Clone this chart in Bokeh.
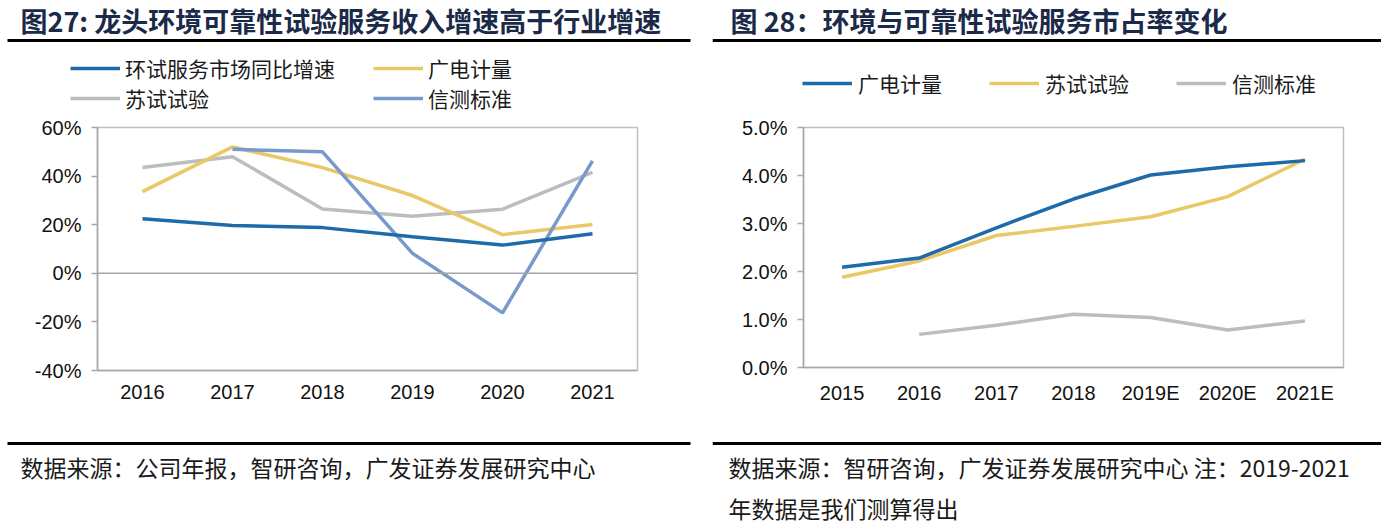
from bokeh.plotting import figure
from bokeh.models import (Range1d, FactorRange, FixedTicker, NumeralTickFormatter,
                          Legend, LegendItem, Span)
from bokeh.layouts import column, row
from bokeh.embed import file_html
from bokeh.resources import INLINE
from bokeh.core.properties import value

nan = float("nan")

# ---------------- data: left chart (growth rates) ----------------
years_l = ["2016", "2017", "2018", "2019", "2020", "2021"]
market_growth = [0.224, 0.197, 0.188, 0.150, 0.116, 0.163]   # 环试服务市场同比增速
gdjl_growth = [0.336, 0.520, 0.435, 0.320, 0.159, 0.201]     # 广电计量
sushi_growth = [0.435, 0.480, 0.265, 0.235, 0.264, 0.415]    # 苏试试验
xince_growth = [nan, 0.510, 0.500, 0.082, -0.163, 0.463]     # 信测标准
yticks_l = [-0.4, -0.2, 0.0, 0.2, 0.4, 0.6]

# ---------------- data: right chart (market share) ----------------
years_r = ["2015", "2016", "2017", "2018", "2019E", "2020E", "2021E"]
gdjl_share = [0.0209, 0.0228, 0.0291, 0.0351, 0.0401, 0.0418, 0.0431]
sushi_share = [0.0188, 0.0222, 0.0275, 0.0294, 0.0314, 0.0356, 0.0434]
xince_share = [nan, 0.0069, 0.0088, 0.0111, 0.0104, 0.0078, 0.0097]
yticks_r = [0.0, 0.01, 0.02, 0.03, 0.04, 0.05]

title_l = "图27: 龙头环境可靠性试验服务收入增速高于行业增速"
title_r = "图 28：环境与可靠性试验服务市占率变化"
source_l = ["数据来源：公司年报，智研咨询，广发证券发展研究中心"]
source_r = ["数据来源：智研咨询，广发证券发展研究中心 注：2019-2021", "年数据是我们测算得出"]

C_DARK = "#1F6AA8"
C_YEL = "#E8C867"
C_GRAY = "#BDBDBD"
C_LBLUE = "#7799CC"
CJK = "Noto Sans CJK SC"
NUM = "Liberation Sans"
TITLE_COLOR = "#1A2A48"
LW = 3.5
W_L, W_R = 712, 669
HEAD_H = 53
LEG_H = 63
MAIN_H = 314
FOOT_H = 98


def deco_fig(w, h, borders=(0, 0, 0, 0)):
    p = figure(width=w, height=h, x_range=Range1d(0, w), y_range=Range1d(h, 0),
               toolbar_location=None, output_backend="svg", min_border=0,
               x_axis_location=None, y_axis_location=None, frame_align=False)
    p.min_border_left, p.min_border_right, p.min_border_top, p.min_border_bottom = borders
    p.outline_line_color = None
    p.grid.visible = False
    return p


def header(w, title, rule_x0, rule_x1, title_x):
    p = deco_fig(w, HEAD_H)
    p.text(x=[title_x], y=[20], text=[title], text_baseline="middle", text_align="left",
           text_font=value(CJK), text_font_style="bold", text_font_size="27px",
           text_color=TITLE_COLOR)
    p.segment(x0=[rule_x0], y0=[40], x1=[rule_x1], y1=[40], line_width=3, line_color="black")
    return p


def legend_fig(w, left, top, names, colors, ncols, label_width, standoff):
    p = deco_fig(w, LEG_H, (left, 0, top, 0))
    items = []
    for name, col in zip(names, colors):
        # legend key lines (placed outside the visible range, only their keys show)
        r = p.line(x=[-100, -90], y=[-100, -100], line_color=col, line_width=LW)
        items.append(LegendItem(label=name, renderers=[r]))
    lg = Legend(items=items, location="top_left", orientation="horizontal", ncols=ncols,
                glyph_width=50, glyph_height=20, label_height=20,
                label_width=label_width, label_standoff=standoff,
                spacing=-3, padding=0, margin=0, border_line_color=None,
                background_fill_alpha=0, label_text_font=CJK,
                label_text_font_size="21px", label_text_color="#1a1a1a")
    p.add_layout(lg)
    return p


def footer(w, lines, rule_x0, rule_x1, text_x):
    p = deco_fig(w, FOOT_H)
    p.segment(x0=[rule_x0], y0=[13], x1=[rule_x1], y1=[13], line_width=3, line_color="black")
    ys = [36, 77][:len(lines)]
    p.text(x=[text_x] * len(lines), y=ys, text=lines, text_baseline="middle",
           text_align="left", text_font=value(CJK), text_font_size="23px",
           text_color="#1a1a1a")
    return p


def main_fig(w, h, cats, yr, borders):
    p = figure(width=w, height=h, x_range=FactorRange(*cats), y_range=yr,
               toolbar_location=None, output_backend="svg", frame_align=False)
    p.min_border_left, p.min_border_right, p.min_border_top, p.min_border_bottom = borders
    p.xgrid.visible = False
    p.ygrid.visible = False
    p.outline_line_color = "#BFBFBF"
    p.outline_line_width = 1.5
    for ax in (p.xaxis[0], p.yaxis[0]):
        ax.axis_line_color = "#A6A6A6"
        ax.axis_line_width = 1.5
        ax.major_label_text_font = NUM
        ax.major_label_text_font_size = "20px"
        ax.major_label_text_color = "#111111"
        ax.minor_tick_line_color = None
    p.xaxis.major_tick_line_color = None
    p.xaxis.major_tick_out = 0
    p.xaxis.major_tick_in = 0
    p.xaxis.major_label_standoff = 14
    p.yaxis.major_tick_line_color = "#A6A6A6"
    p.yaxis.major_tick_line_width = 1.5
    p.yaxis.major_tick_out = 6
    p.yaxis.major_tick_in = 0
    p.yaxis.major_label_standoff = 10
    return p


# ---------------- left panel ----------------
pl = main_fig(W_L, MAIN_H, years_l, Range1d(-0.4, 0.6), (97, 75, 11, 60))
pl.yaxis.ticker = FixedTicker(ticks=yticks_l)
pl.yaxis.formatter = NumeralTickFormatter(format="0%")
pl.add_layout(Span(location=0, dimension="width", line_color="#A6A6A6", line_width=1.5))
pl.line(years_l, sushi_growth, line_color=C_GRAY, line_width=LW)
pl.line(years_l, gdjl_growth, line_color=C_YEL, line_width=LW)
pl.line(years_l, xince_growth, line_color=C_LBLUE, line_width=LW)
pl.line(years_l, market_growth, line_color=C_DARK, line_width=LW)
leg_l = legend_fig(W_L, 70, 0,
                   ["环试服务市场同比增速", "广电计量", "苏试试验", "信测标准"],
                   [C_DARK, C_YEL, C_GRAY, C_LBLUE], 2, 248, 5)

left = column(header(W_L, title_l, 7, 690, 20), leg_l, pl,
              footer(W_L, source_l, 7, 690, 20), spacing=0)

# ---------------- right panel ----------------
pr = main_fig(W_R, MAIN_H, years_r, Range1d(0, 0.05), (91, 38, 11, 63))
pr.yaxis.ticker = FixedTicker(ticks=yticks_r)
pr.yaxis.formatter = NumeralTickFormatter(format="0.0%")
pr.line(years_r, xince_share, line_color=C_GRAY, line_width=LW)
pr.line(years_r, sushi_share, line_color=C_YEL, line_width=LW)
pr.line(years_r, gdjl_share, line_color=C_DARK, line_width=LW)
leg_r = legend_fig(W_R, 90, 15, ["广电计量", "苏试试验", "信测标准"],
                   [C_DARK, C_YEL, C_GRAY], 3, 131, 6)

right = column(header(W_R, title_r, 0, W_R, 18), leg_r, pr,
               footer(W_R, source_r, 0, W_R, 16), spacing=0)

page = row(left, right, spacing=0)
open("out.html", "w").write(file_html(page, INLINE))
